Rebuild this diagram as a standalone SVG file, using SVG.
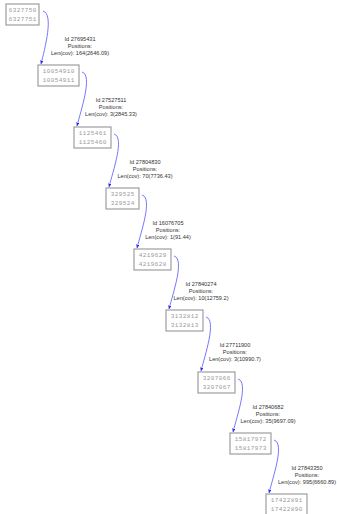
<svg xmlns="http://www.w3.org/2000/svg" width="337" height="514" viewBox="0 0 337 514">
<style>
.box{fill:#fff;stroke:#959595;stroke-width:1.1}
.nt{font-family:"Liberation Mono","DejaVu Sans Mono",monospace;font-size:6px;letter-spacing:0.4px;fill:#9a9a9a;text-anchor:middle}
.lt{font-family:"Liberation Sans",Arial,sans-serif;font-size:5.6px;fill:#333;text-anchor:middle}
.edge{fill:none;stroke:#5656f7;stroke-width:0.8}
</style>
<defs>
<marker id="arr" viewBox="0 0 4 4" refX="4" refY="2" markerWidth="3.5" markerHeight="3.5" markerUnits="userSpaceOnUse" orient="auto">
<path d="M0,0 L4,2 L0,4 z" fill="#2b2bf0"/>
</marker>
</defs>
<rect width="337" height="514" fill="#fff"/>
<g id="edges">
<path class="edge" marker-end="url(#arr)" d="M43,11 C54,14 45,48 41,64"/>
<path class="edge" marker-end="url(#arr)" d="M82,72 C93,75 81,110 77,126"/>
<path class="edge" marker-end="url(#arr)" d="M114,134 C125,137 113,171 109,187"/>
<path class="edge" marker-end="url(#arr)" d="M142,195 C153,198 141,232 137,248"/>
<path class="edge" marker-end="url(#arr)" d="M174,256 C185,259 173,293 169,309"/>
<path class="edge" marker-end="url(#arr)" d="M206,317 C217,320 205,355 201,371"/>
<path class="edge" marker-end="url(#arr)" d="M238,379 C249,382 237,416 233,432"/>
<path class="edge" marker-end="url(#arr)" d="M274,440 C285,443 273,477 269,493"/>
<text class="lt" x="80" y="41">Id 27695431</text>
<text class="lt" x="80" y="47.5">Positions:</text>
<text class="lt" x="80" y="54.5">Len(cov): 164(2646.09)</text>
<text class="lt" x="111" y="102">Id 27527511</text>
<text class="lt" x="111" y="108.5">Positions:</text>
<text class="lt" x="111" y="115.5">Len(cov): 3(2845.33)</text>
<text class="lt" x="145" y="164">Id 27804830</text>
<text class="lt" x="145" y="170.5">Positions:</text>
<text class="lt" x="145" y="177.5">Len(cov): 70(7736.43)</text>
<text class="lt" x="168" y="225">Id 16076705</text>
<text class="lt" x="168" y="231.5">Positions:</text>
<text class="lt" x="168" y="238.5">Len(cov): 1(91.44)</text>
<text class="lt" x="201" y="286">Id 27840274</text>
<text class="lt" x="201" y="292.5">Positions:</text>
<text class="lt" x="201" y="299.5">Len(cov): 10(12759.2)</text>
<text class="lt" x="235" y="347">Id 27711900</text>
<text class="lt" x="235" y="353.5">Positions:</text>
<text class="lt" x="235" y="360.5">Len(cov): 3(10990.7)</text>
<text class="lt" x="268" y="409">Id 27840682</text>
<text class="lt" x="268" y="415.5">Positions:</text>
<text class="lt" x="268" y="422.5">Len(cov): 35(9697.09)</text>
<text class="lt" x="307" y="470">Id 27843350</text>
<text class="lt" x="307" y="476.5">Positions:</text>
<text class="lt" x="307" y="483.5">Len(cov): 995(6660.89)</text>
</g>
<g id="n1"><rect class="box" x="6" y="4" width="33" height="21"/><text class="nt" x="22.7" y="12">6327750</text><text class="nt" x="22.7" y="20.5">6327751</text></g>
<g id="n2"><rect class="box" x="38" y="65" width="41" height="21"/><text class="nt" x="58.7" y="73">10054910</text><text class="nt" x="58.7" y="81.5">10054911</text></g>
<g id="n3"><rect class="box" x="74" y="127" width="37" height="21"/><text class="nt" x="92.7" y="135">1125461</text><text class="nt" x="92.7" y="143.5">1125460</text></g>
<g id="n4"><rect class="box" x="106" y="188" width="33" height="21"/><text class="nt" x="122.7" y="196">329525</text><text class="nt" x="122.7" y="204.5">329524</text></g>
<g id="n5"><rect class="box" x="134" y="249" width="37" height="21"/><text class="nt" x="152.7" y="257">4219629</text><text class="nt" x="152.7" y="265.5">4219628</text></g>
<g id="n6"><rect class="box" x="166" y="310" width="37" height="21"/><text class="nt" x="184.7" y="318">3132812</text><text class="nt" x="184.7" y="326.5">3132813</text></g>
<g id="n7"><rect class="box" x="198" y="372" width="37" height="21"/><text class="nt" x="216.7" y="380">3207066</text><text class="nt" x="216.7" y="388.5">3207067</text></g>
<g id="n8"><rect class="box" x="230" y="433" width="41" height="21"/><text class="nt" x="250.7" y="441">15817972</text><text class="nt" x="250.7" y="449.5">15817973</text></g>
<g id="n9"><rect class="box" x="266" y="494" width="41" height="21"/><text class="nt" x="286.7" y="502">17422891</text><text class="nt" x="286.7" y="510.5">17422890</text></g>
</svg>
